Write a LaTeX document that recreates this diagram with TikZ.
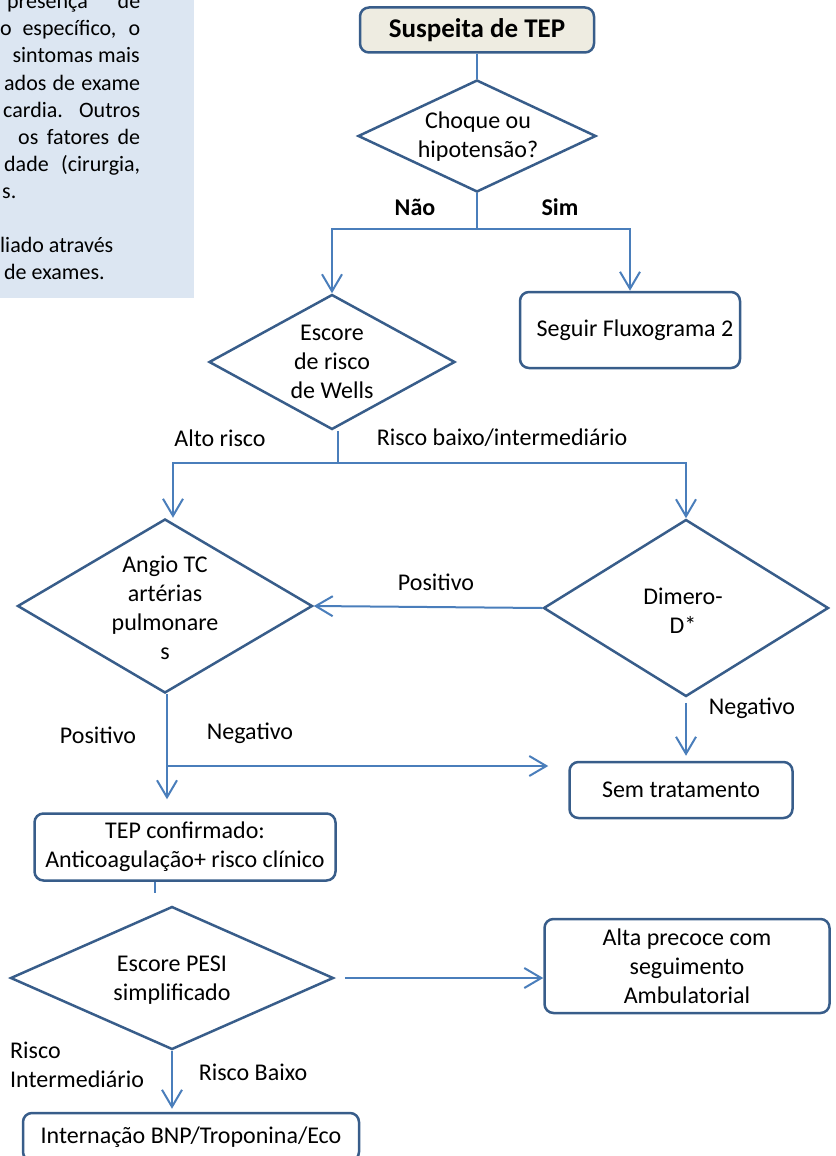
\documentclass[tikz,border=0pt]{standalone}
\usepackage{fontspec}
\setmainfont{Carlito}
\usetikzlibrary{shapes.geometric,arrows.meta,calc}
\definecolor{boxc}{RGB}{56,93,138}
\definecolor{conc}{RGB}{74,126,187}
\definecolor{startfill}{RGB}{238,236,225}
\definecolor{notefill}{RGB}{220,230,242}
\tikzset{
  box/.style={draw=boxc, line width=2.5pt, rounded corners=9pt, inner sep=0pt, align=center, font=\fontsize{24}{29}\selectfont},
  dia/.style={draw=boxc, line width=2.5pt, diamond, inner sep=0pt},
  txt/.style={align=center, inner sep=0pt, font=\fontsize{24}{29}\selectfont},
  conn/.style={draw=conc, line width=2pt},
  arr/.style={conn, -{Straight Barb[length=17pt,width=20pt]}},
  note/.style={anchor=base west, inner sep=0pt, font=\fontsize{22}{27}\selectfont},
}
\begin{document}
\begin{tikzpicture}[x=1pt,y=-1pt]
\useasboundingbox (0,0) rectangle (835,1156);
% note box
\node[fill=notefill, minimum width=194pt, minimum height=298pt, anchor=north west, inner sep=0pt] (notebg) at (0,0) {};
\node[note] (n1) at (7,9) {\makebox[133pt][s]{presença de}};
\node[note] (n2) at (0,36) {\makebox[140pt][s]{o específico, o}};
\node[note, anchor=base east] (n3) at (140,63) {sintomas mais};
\node[note] (n4) at (4,90) {\makebox[136pt][s]{ados de exame}};
\node[note] (n5) at (3,117) {\makebox[137pt][s]{cardia. Outros}};
\node[note] (n6) at (18,144) {\makebox[122pt][s]{os fatores de}};
\node[note] (n7) at (4,171) {\makebox[136pt][s]{dade (cirurgia,}};
\node[note] (n8) at (2,198) {s.};
\node[note] (n9) at (0,252) {liado através};
\node[note] (n10) at (4,279) {de exames.};
% nodes
\node[box, fill=startfill, minimum width=234pt, minimum height=45pt, font=\bfseries\fontsize{27}{32}\selectfont] (start) at (477,30) {Suspeita de TEP};
\node[dia, minimum width=238pt, minimum height=112pt] (choq) at (477,136) {};
\node[txt] (choqT) at (478,137) {Choque ou\\hipotensão?};
\node[txt, font=\bfseries\fontsize{24}{29}\selectfont] (nao) at (415,207) {Não};
\node[txt, font=\bfseries\fontsize{24}{29}\selectfont] (sim) at (560,207) {Sim};
\node[dia, minimum width=246pt, minimum height=135pt] (wells) at (332,362) {};
\node[txt] (wellsT) at (332,362) {Escore\\de risco\\de Wells};
\node[box, minimum width=220pt, minimum height=76pt] (seg) at (630,330) {\hspace*{10pt}Seguir Fluxograma 2};
\node[txt] (ar) at (220,438) {Alto risco};
\node[txt] (rbi) at (502,438) {Risco baixo/intermediário};
\node[dia, minimum width=295pt, minimum height=174pt] (angio) at (165,606) {};
\node[txt] (angioT) at (165,608) {Angio TC\\artérias\\pulmonare\\s};
\node[dia, minimum width=285pt, minimum height=177pt] (dim) at (686,608) {};
\node[txt] (dimT) at (683,611) {Dimero-\\D*};
\node[txt] (pos1) at (436,582) {Positivo};
\node[txt] (neg1) at (752,708) {Negativo};
\node[box, minimum width=223pt, minimum height=56pt] (sem) at (681,790) {Sem tratamento};
\node[txt] (pos2) at (98,735) {Positivo};
\node[txt] (neg2) at (250,733) {Negativo};
\node[box, minimum width=301pt, minimum height=67pt] (tep) at (185,847) {TEP confirmado:\\Anticoagulação+ risco clínico};
\node[dia, minimum width=323pt, minimum height=143pt] (pesi) at (172,978) {};
\node[txt] (pesiT) at (172,980) {Escore PESI\\simplificado};
\node[box, minimum width=285pt, minimum height=94pt] (alta) at (687,966) {Alta precoce com\\seguimento\\Ambulatorial};
\node[txt, align=left, anchor=west] (ri) at (10,1065) {Risco\\Intermediário};
\node[txt] (rb) at (253,1072) {Risco Baixo};
\node[box, minimum width=336pt, minimum height=48pt] (intern) at (191,1137) {Internação BNP/Troponina/Eco};
% connectors
\coordinate (j1) at (477,229);
\coordinate (j2) at (338,463);
\coordinate (j3) at (167,766);
\coordinate (stub) at (155,893);
\coordinate (angioIn) at ($(angio.north)+(8,0)$);
\draw[conn] (start.south) -- (choq.north);
\draw[conn] (choq.south) -- (j1);
\draw[arr] (j1) -| (wells.north);
\draw[arr] (j1) -| (seg.north);
\draw[conn] (j2 |- wells.south) -- (j2);
\draw[arr] (j2) -| (angioIn);
\draw[arr] (j2) -| (dim.north);
\draw[arr] (dim.west) -- (angio.east);
\draw[arr, shorten <=5pt, shorten >=5pt] (dim.south) -- (dim.south |- sem.north);
\draw[conn] (j3 |- angio.south) -- (j3);
\draw[arr, shorten >=13pt] (j3) -- (j3 |- tep.north);
\draw[arr, shorten >=20pt] (j3) -- (j3 -| sem.west);
\draw[conn] (stub |- tep.south) -- (stub);
\draw[arr, shorten <=10pt] (pesi.east) -- (pesi.east -| alta.west);
\draw[arr, shorten >=3pt] (pesi.south) -- (pesi.south |- intern.north);
\end{tikzpicture}
\end{document}
